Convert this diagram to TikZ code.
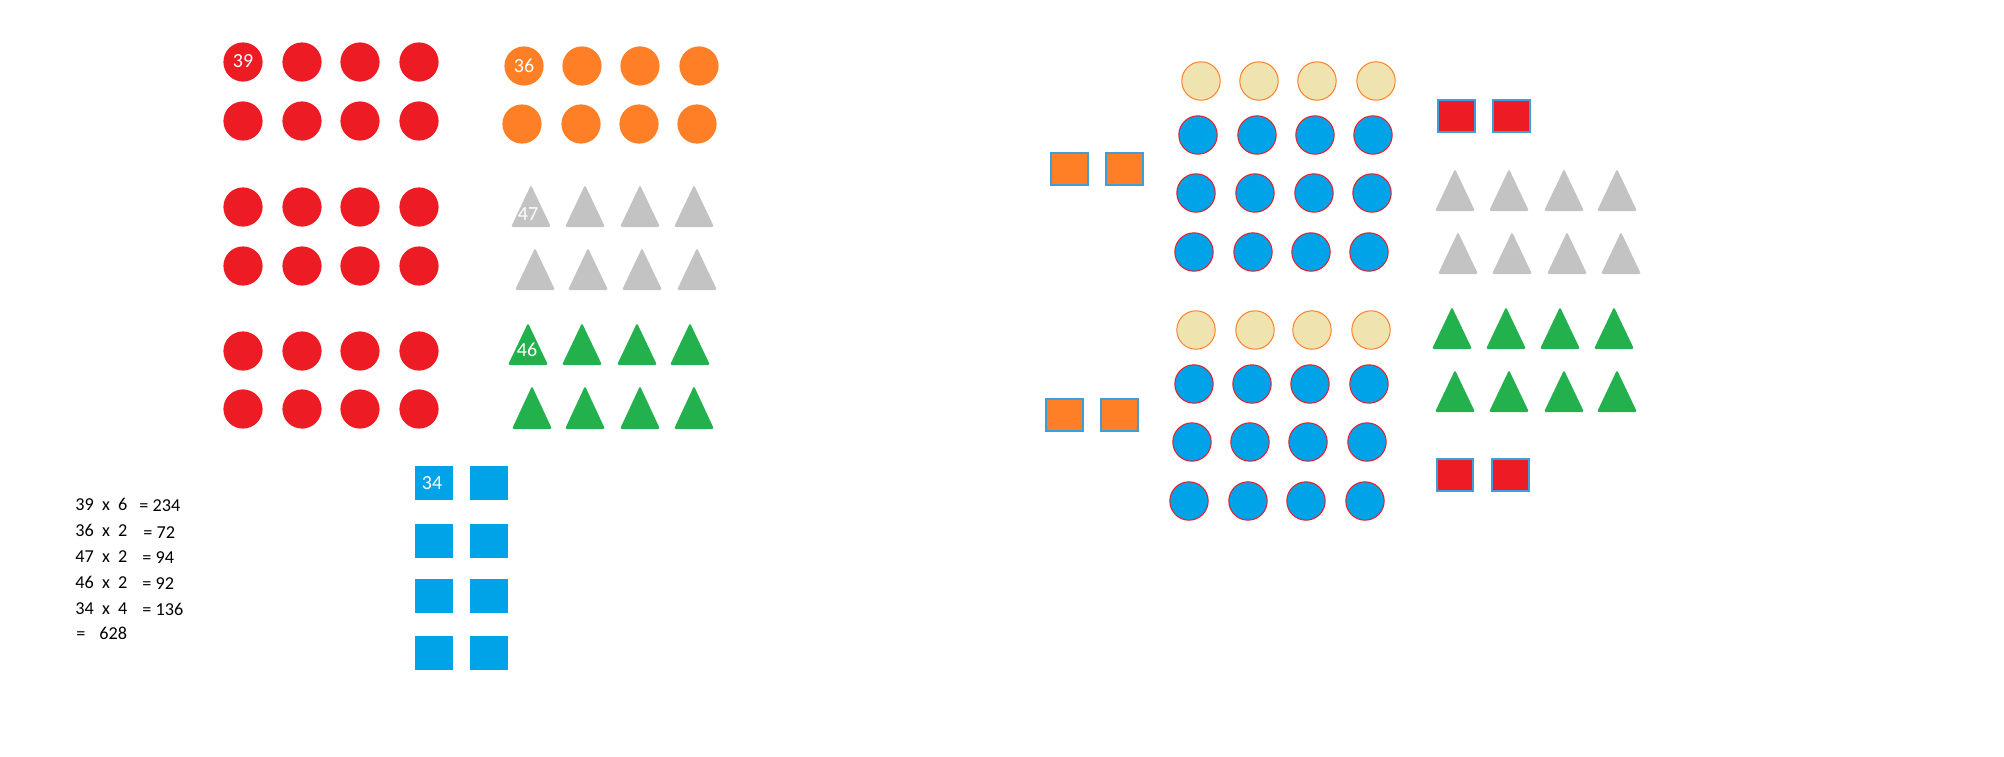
\documentclass[tikz,border=0pt]{standalone}
\usepackage{fontspec}
\setmainfont{Carlito}
\usepackage{tikz}
\definecolor{cred}{HTML}{ED1C24}
\definecolor{corange}{HTML}{FF7F27}
\definecolor{cgray}{HTML}{C3C3C3}
\definecolor{cgreen}{HTML}{22B14C}
\definecolor{cblue}{HTML}{00A2E8}
\definecolor{cbeige}{HTML}{EFE4B0}
\definecolor{cedge}{HTML}{3C9FDC}

\begin{document}
\begin{tikzpicture}[x=0.5pt,y=-0.5pt,
  redc/.style={fill=cred},
  orangec/.style={fill=corange},
  beigec/.style={fill=cbeige,draw=corange,line width=0.5pt},
  bluec/.style={fill=cblue,draw=cred,line width=0.5pt},
  grayt/.style={fill=cgray,rounded corners=0.8pt},
  greent/.style={fill=cgreen,rounded corners=0.8pt},
  blues/.style={fill=cblue},
  orsq/.style={fill=corange,draw=cedge,line width=0.7pt},
  redsq/.style={fill=cred,draw=cedge,line width=0.7pt},
  numlab/.style={text=white,inner sep=0pt,font=\fontsize{10}{12}\selectfont},
  eqtext/.style={anchor=base west,inner sep=0pt,font=\fontsize{9.1}{11}\selectfont}]
\useasboundingbox (0,0) rectangle (2004,756);
% left: red circles
\foreach \y in {62,121,207,266,351,409}
  \foreach \x in {243,302,360,419}
    \fill[redc] (\x,\y) circle (9.8pt);
% orange circles
\foreach \x in {524,582,640,699} \fill[orangec] (\x,66) circle (9.8pt);
\foreach \x in {522,581,639,697} \fill[orangec] (\x,124) circle (9.8pt);
% grey and green triangles
\foreach \x in {531,585,640,694} \fill[grayt] (\x,185) -- (\x+20,227) -- (\x-20,227) -- cycle;
\foreach \x in {535,588,642,697} \fill[grayt] (\x,248) -- (\x+20,290) -- (\x-20,290) -- cycle;
\foreach \x in {528,582,637,690} \fill[greent] (\x,323) -- (\x+20,365) -- (\x-20,365) -- cycle;
\foreach \x in {532,585,640,694} \fill[greent] (\x,386) -- (\x+20,429) -- (\x-20,429) -- cycle;
% blue squares
\foreach \y in {466,524,579,636} {
  \fill[blues] (415,\y) rectangle (453,\y+34);
  \fill[blues] (470,\y) rectangle (508,\y+34);
}
\node[numlab] (n39) at (243,61) {39};
\node[numlab] (n36) at (524,66) {36};
\node[numlab] (n47) at (528,214) {47};
\node[numlab] (n46) at (527,350) {46};
\node[numlab] (n34) at (432,483) {34};
% sums
\node[eqtext] (e1) at (75,510) {39~~x~~6};
\node[eqtext] (r1) at (139,511) {= 234};
\node[eqtext] (e2) at (75,536) {36~~x~~2};
\node[eqtext] (r2) at (143,538) {= 72};
\node[eqtext] (e3) at (75,562) {47~~x~~2};
\node[eqtext] (r3) at (142,563) {= 94};
\node[eqtext] (e4) at (75,588) {46~~x~~2};
\node[eqtext] (r4) at (142,589) {= 92};
\node[eqtext] (e5) at (75,614) {34~~x~~4};
\node[eqtext] (r5) at (142,615) {= 136};
\node[eqtext] (eq) at (76,639) {=};
\node[eqtext] (tot) at (99,639) {628};
% right: orange and red squares
\draw[orsq] (1051,153) rectangle (1088,185);
\draw[orsq] (1106,153) rectangle (1143,185);
\draw[orsq] (1046,399) rectangle (1083,431);
\draw[orsq] (1101,399) rectangle (1138,431);
\draw[redsq] (1438,100) rectangle (1475,132);
\draw[redsq] (1493,100) rectangle (1530,132);
\draw[redsq] (1437,459) rectangle (1473,491);
\draw[redsq] (1492,459) rectangle (1529,491);
% beige and blue circles
\foreach \x in {1201,1259,1317,1376} \draw[beigec] (\x,81) circle (9.6pt);
\foreach \x in {1198,1257,1315,1373} \draw[bluec] (\x,135) circle (9.6pt);
\foreach \x in {1196,1255,1314,1372} \draw[bluec] (\x,193) circle (9.6pt);
\foreach \x in {1194,1253,1311,1369} \draw[bluec] (\x,252) circle (9.6pt);
\foreach \x in {1196,1255,1312,1371} \draw[beigec] (\x,330) circle (9.6pt);
\foreach \x in {1194,1252,1310,1369} \draw[bluec] (\x,384) circle (9.6pt);
\foreach \x in {1192,1250,1308,1367} \draw[bluec] (\x,442) circle (9.6pt);
\foreach \x in {1189,1248,1306,1365} \draw[bluec] (\x,501) circle (9.6pt);
% right triangles
\foreach \x in {1455,1509,1564,1617} \fill[grayt] (\x,169) -- (\x+20,211) -- (\x-20,211) -- cycle;
\foreach \x in {1458,1512,1567,1621} \fill[grayt] (\x,232) -- (\x+20,274) -- (\x-20,274) -- cycle;
\foreach \x in {1452,1506,1560,1614} \fill[greent] (\x,307) -- (\x+20,349) -- (\x-20,349) -- cycle;
\foreach \x in {1455,1509,1564,1617} \fill[greent] (\x,370) -- (\x+20,412) -- (\x-20,412) -- cycle;
\end{tikzpicture}
\end{document}
